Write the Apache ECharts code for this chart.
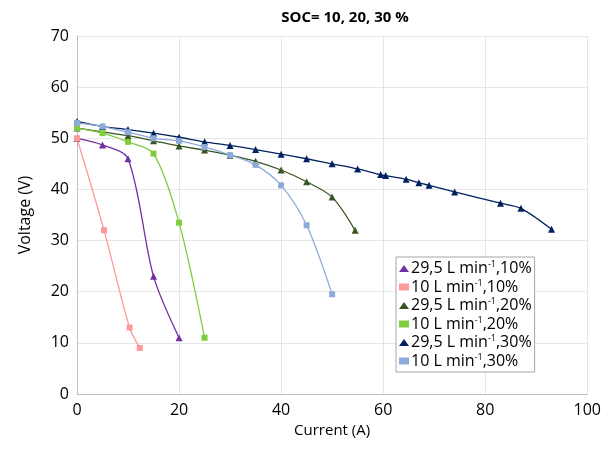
<!DOCTYPE html>
<html>
<head>
<meta charset="utf-8">
<script src="https://cdn.jsdelivr.net/npm/echarts@6/dist/echarts.min.js"></script>
<style>html,body{margin:0;padding:0;background:#fff}#main{width:604px;height:449px}</style>
</head>
<body>
<div id="main"></div>
<script>
// SOC curves: [current A, voltage V]
var s295_10 = [[0,50],[5,48.7],[10,46],[15,23],[20,11]];
var s10_10 = [[0,50],[5.3,32],[10.3,13],[12.3,9]];
var s295_20 = [[0,52],[10,50.5],[15,49.5],[20,48.5],[25,47.7],[30,46.7],[35,45.5],[40,43.8],[45,41.5],[50,38.5],[54.5,32]];
var s10_20 = [[0,52],[5,51],[10,49.3],[15,47],[20,33.5],[25,11]];
var s295_30 = [[0,53.3],[5,52.3],[10,51.7],[15,51],[20,50.2],[25,49.3],[30,48.6],[35,47.8],[40,46.9],[45,46],[50,45],[55,44],[59.5,42.9],[60.5,42.7],[64.5,42],[67,41.3],[69,40.8],[74,39.5],[83,37.3],[87,36.3],[93,32.2]];
var s10_30 = [[0,53],[5,52.3],[10,51.2],[15,50],[20,49.5],[25,48.3],[30,46.7],[35,44.8],[40,40.8],[45,33],[50,19.5]];

var names = ['29,5 L min-1,10%','10 L min-1,10%','29,5 L min-1,20%','10 L min-1,20%','29,5 L min-1,30%','10 L min-1,30%'];
var datas = [s295_10, s10_10, s295_20, s10_20, s295_30, s10_30];
var colors = ['#7030a0','#ff9999','#375623','#7fcc3f','#002060','#8eaadb'];
var symbols = ['triangle','rect','triangle','rect','triangle','rect'];

var chart = echarts.init(document.getElementById('main'));
chart.setOption({
  animation: false,
  title: { text: 'SOC= 10, 20, 30 %', left: 340, top: 5, textAlign: 'center',
    textStyle: { fontFamily: 'Open Sans', fontSize: 15, fontWeight: 'bold', color: '#000' } },
  grid: { left: 77, right: 16, top: 36, bottom: 55 },
  xAxis: { type: 'value', min: 0, max: 100, interval: 20,
    name: 'Current (A)', nameLocation: 'middle', nameGap: 21,
    nameTextStyle: { fontFamily: 'Open Sans', fontSize: 15, color: '#000' },
    axisLine: { lineStyle: { color: '#bfbfbf' } }, axisTick: { show: false },
    axisLabel: { fontFamily: 'Open Sans', fontSize: 16, color: '#000' },
    splitLine: { lineStyle: { color: '#e6e6e6' } } },
  yAxis: { type: 'value', min: 0, max: 70, interval: 10,
    name: 'Voltage (V)', nameLocation: 'middle', nameGap: 44,
    nameTextStyle: { fontFamily: 'Open Sans', fontSize: 16, color: '#000' },
    axisLine: { show: true, lineStyle: { color: '#bfbfbf' } }, axisTick: { show: false },
    axisLabel: { fontFamily: 'Open Sans', fontSize: 16, color: '#000' },
    splitLine: { lineStyle: { color: '#e6e6e6' } } },
  legend: {
    orient: 'vertical', left: 396, top: 257, itemGap: 2, itemWidth: 10, itemHeight: 7,
    padding: [3, 3, 3, 3],
    borderColor: '#a6a6a6', borderWidth: 1, backgroundColor: '#fff',
    data: names.map(function (n, i) { return { name: n, icon: symbols[i] }; }),
    formatter: function (n) {
      var p = n.split('min-1');
      return p[0] + 'min{sup|-1}' + p[1];
    },
    textStyle: { fontFamily: 'Open Sans', fontSize: 16, color: '#000', padding: [0, 0, 0, -3],
      rich: { sup: { fontSize: 9, verticalAlign: 'top', padding: [0, 0, 8, 0], fontFamily: 'Open Sans' } } }
  },
  series: datas.map(function (d, i) {
    return {
      name: names[i], type: 'line', data: d, smooth: 0.3,
      symbol: symbols[i], symbolSize: symbols[i] === 'rect' ? 6 : 7,
      lineStyle: { color: colors[i], width: 1.3 },
      itemStyle: { color: colors[i] }
    };
  })
});
</script>
</body>
</html>
